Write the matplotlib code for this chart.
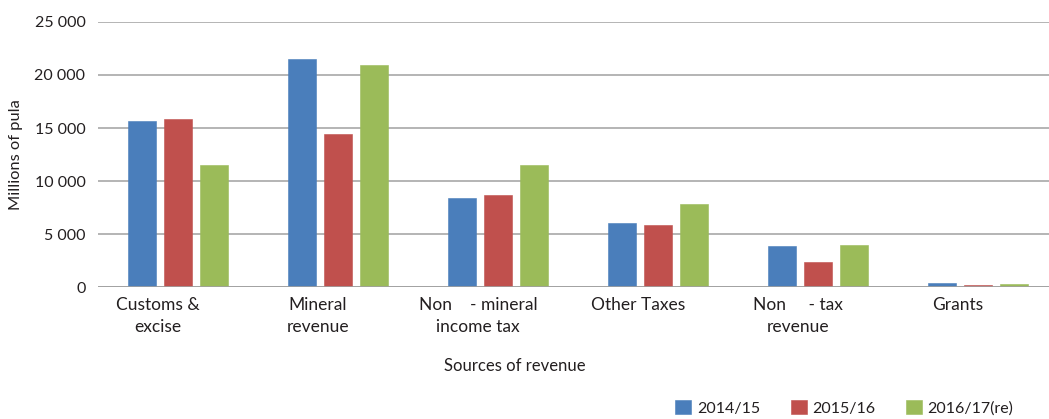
import matplotlib
matplotlib.use("Agg")
import matplotlib.pyplot as plt
import matplotlib.transforms as mtransforms
from matplotlib.ticker import FuncFormatter, MultipleLocator
import numpy as np

plt.rcParams['font.family'] = ['Lato', 'DejaVu Sans']

# Revenue sources (millions of pula)
categories = ["Customs &\nexcise", "Mineral\nrevenue", "Non    - mineral\nincome tax",
              "Other Taxes", "Non     - tax\nrevenue", "Grants"]
series_names = ["2014/15", "2015/16", "2016/17(re)"]
values_2014 = [15700, 21550, 8380, 6040, 3860, 350]
values_2015 = [15870, 14450, 8690, 5880, 2400, 160]
values_2016 = [11530, 20950, 11500, 7870, 3980, 260]
colors = ["#4A7EBB", "#C0504D", "#9BBB59"]

W, H = 1049, 419
fig = plt.figure(figsize=(W / 100, H / 100), dpi=100)
ax = fig.add_axes([98 / W, 1 - 287 / H, 960 / W, 265 / H])

x = np.arange(len(categories))
step, width = 0.222, 0.175
for i, (vals, name, col) in enumerate(zip([values_2014, values_2015, values_2016],
                                          series_names, colors)):
    ax.bar(x + (i - 1) * step, vals, width, color=col, label=name, zorder=3,
           edgecolor=col, linewidth=0.4)

ax.set_xlim(-0.5, len(categories) - 0.5)
ax.set_ylim(0, 25000)
ax.yaxis.set_major_locator(MultipleLocator(5000))
ax.yaxis.set_major_formatter(FuncFormatter(lambda v, p: f"{int(v):,}".replace(",", " ")))
ax.grid(axis='y', color='#a0a0a0', linewidth=1.1, zorder=0)
for s in ax.spines.values():
    s.set_visible(False)
ax.axhline(0, color='#a0a0a0', linewidth=1.2, zorder=4)

ax.tick_params(axis='y', length=0, pad=9, labelsize=11.5, labelcolor='#231f20')
ax.tick_params(axis='x', length=0, pad=7.5, labelsize=12.5, labelcolor='#231f20')
ax.set_xticks(x)
ax.set_xticklabels(categories, linespacing=1.45)
shift = mtransforms.ScaledTranslation(-20 / 100, 0, fig.dpi_scale_trans)
for lbl in ax.get_xticklabels():
    lbl.set_transform(lbl.get_transform() + shift)

ax.set_ylabel("Millions of pula", fontsize=11.8, color='#231f20', labelpad=8)
fig.text(515 / W, 1 - 366 / H, "Sources of revenue", ha='center', va='center',
         fontsize=12, color='#231f20')

fig.legend(loc='center right', bbox_to_anchor=(1013 / W, 1 - 408 / H), ncol=3,
           frameon=False, fontsize=11.5, handlelength=1.0, handleheight=1.0,
           handletextpad=0.35, columnspacing=1.9, borderaxespad=0, borderpad=0,
           labelcolor='#231f20')

fig.savefig("out.png", dpi=100)
